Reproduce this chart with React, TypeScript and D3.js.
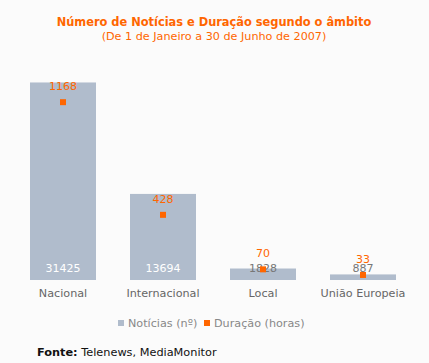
import { useRef, useEffect } from 'react';
import * as d3 from 'd3';

const categories = ['Nacional', 'Internacional', 'Local', 'União Europeia'];
const noticias = [31425, 13694, 1828, 887];
const duracao = [1168, 428, 70, 33];

const W = 429;
const H = 363;
const ORANGE = '#ff6600';
const BAR = '#b0bccc';
const FONT = '"DejaVu Sans", Verdana, sans-serif';

export default function App() {
  const svgRef = useRef<SVGSVGElement>(null);

  useEffect(() => {
    if (!svgRef.current) return;
    const svg = d3.select(svgRef.current);
    svg.selectAll('*').remove();

    svg.append('rect').attr('width', W).attr('height', H).attr('fill', '#fbfbfb');

    // title
    svg.append('text').attr('x', 214).attr('y', 26).attr('text-anchor', 'middle')
      .attr('font-family', FONT).attr('font-size', 11.4).attr('font-weight', 'bold')
      .attr('fill', ORANGE).text('Número de Notícias e Duração segundo o âmbito');
    svg.append('text').attr('x', 214).attr('y', 40).attr('text-anchor', 'middle')
      .attr('font-family', FONT).attr('font-size', 11.2)
      .attr('fill', ORANGE).text('(De 1 de Janeiro a 30 de Junho de 2007)');

    const plotTop = 60;
    const plotBottom = 280;
    const x = d3.scaleBand().domain(categories).range([13, 413]).paddingInner(0.34).paddingOuter(0.17);
    const yBar = d3.scaleLinear().domain([0, 35000]).range([plotBottom, plotTop]);
    const yDur = d3.scaleLinear().domain([0, 1445]).range([plotBottom, plotTop]);

    const g = svg.append('g');
    g.selectAll('rect.bar').data(categories).join('rect')
      .attr('class', 'bar')
      .attr('x', (d) => x(d) ?? 0)
      .attr('y', (_, i) => yBar(noticias[i]))
      .attr('width', x.bandwidth())
      .attr('height', (_, i) => plotBottom - yBar(noticias[i]))
      .attr('fill', BAR);

    // bar values, white inside tall bars, grey over short ones
    g.selectAll('text.val').data(categories).join('text')
      .attr('class', 'val')
      .attr('x', (d) => (x(d) ?? 0) + x.bandwidth() / 2)
      .attr('y', 272)
      .attr('text-anchor', 'middle')
      .attr('font-family', FONT).attr('font-size', 11)
      .attr('fill', (_, i) => (plotBottom - yBar(noticias[i]) > 20 ? '#ffffff' : '#777777'))
      .text((_, i) => String(noticias[i]));

    // duration markers
    g.selectAll('rect.dur').data(categories).join('rect')
      .attr('class', 'dur')
      .attr('x', (d) => (x(d) ?? 0) + x.bandwidth() / 2 - 3)
      .attr('y', (_, i) => yDur(duracao[i]) - 3)
      .attr('width', 6).attr('height', 6)
      .attr('fill', ORANGE);

    g.selectAll('text.durv').data(categories).join('text')
      .attr('class', 'durv')
      .attr('x', (d) => (x(d) ?? 0) + x.bandwidth() / 2)
      .attr('y', (_, i) => yDur(duracao[i]) - 12)
      .attr('text-anchor', 'middle')
      .attr('font-family', FONT).attr('font-size', 11)
      .attr('fill', ORANGE)
      .text((_, i) => String(duracao[i]));

    // category labels
    g.selectAll('text.cat').data(categories).join('text')
      .attr('class', 'cat')
      .attr('x', (d) => (x(d) ?? 0) + x.bandwidth() / 2)
      .attr('y', 297)
      .attr('text-anchor', 'middle')
      .attr('font-family', FONT).attr('font-size', 11.2)
      .attr('fill', '#666666')
      .text((d) => d);

    // legend
    const legend = [
      { label: 'Notícias (nº)', color: BAR, x: 118 },
      { label: 'Duração (horas)', color: ORANGE, x: 204 },
    ];
    legend.forEach((l) => {
      svg.append('rect').attr('x', l.x).attr('y', 320).attr('width', 6).attr('height', 6).attr('fill', l.color);
      svg.append('text').attr('x', l.x + 10).attr('y', 327)
        .attr('font-family', FONT).attr('font-size', 11.2).attr('fill', '#888888').text(l.label);
    });

    // source
    const src = svg.append('text').attr('x', 37).attr('y', 356)
      .attr('font-family', FONT).attr('font-size', 11.3).attr('fill', '#111111');
    src.append('tspan').attr('font-weight', 'bold').text('Fonte:');
    src.append('tspan').text(' Telenews, MediaMonitor');
  }, []);

  return (
    <div style={{ position: 'fixed', left: 0, top: 0 }}>
      <svg ref={svgRef} width={W} height={H} style={{ display: 'block' }} />
    </div>
  );
}
